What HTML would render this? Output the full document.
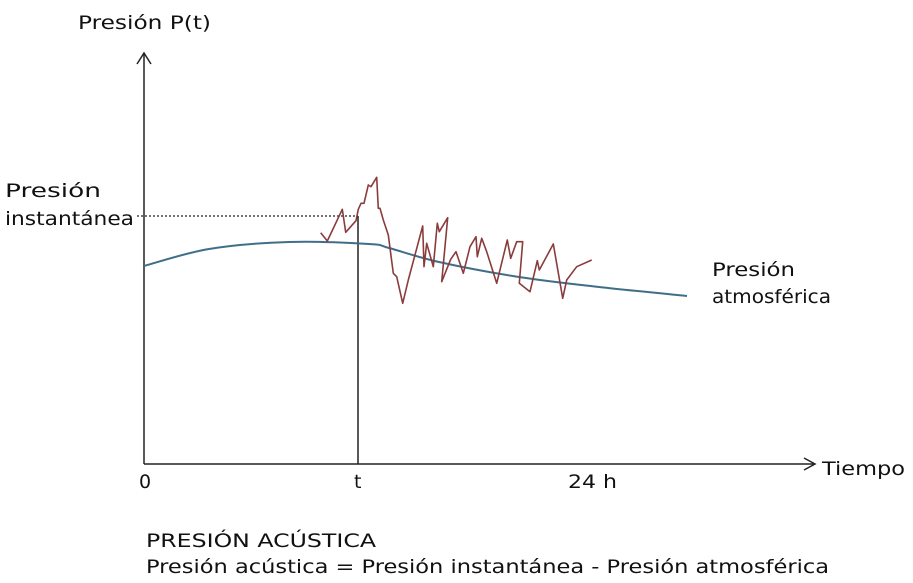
<!DOCTYPE html>
<html><head><meta charset="utf-8"><style>
html,body{margin:0;padding:0;background:#fff;}
svg{display:block;}
text{font-family:"DejaVu Sans","Liberation Sans",sans-serif;font-size:19px;fill:#111;}
</style></head><body>
<svg id="chart" width="913" height="583" viewBox="0 0 913 583">
<g id="axes">
  <line x1="144" y1="464" x2="144" y2="54" stroke="#222" stroke-width="1.5"/>
  <polyline points="137,64 144,53 151,64" fill="none" stroke="#222" stroke-width="1.5"/>
  <line x1="144" y1="464" x2="815" y2="464" stroke="#222" stroke-width="1.5"/>
  <polyline points="804,458 815,464 804,470" fill="none" stroke="#222" stroke-width="1.5"/>
  <text x="78" y="29" textLength="133" lengthAdjust="spacingAndGlyphs">Presión P(t)</text>
  <text x="822" y="475" textLength="83" lengthAdjust="spacingAndGlyphs">Tiempo</text>
  <text x="139" y="488">0</text>
  <text x="354" y="488">t</text>
  <text x="568" y="488" textLength="49" lengthAdjust="spacingAndGlyphs">24 h</text>
  <text x="5" y="197" textLength="96" lengthAdjust="spacingAndGlyphs">Presión</text>
  <text x="5" y="225" textLength="129" lengthAdjust="spacingAndGlyphs">instantánea</text>
  <text x="712" y="276" textLength="83" lengthAdjust="spacingAndGlyphs">Presión</text>
  <text x="712" y="303" textLength="119" lengthAdjust="spacingAndGlyphs">atmosférica</text>
  <text x="146" y="547" textLength="230" lengthAdjust="spacingAndGlyphs">PRESIÓN ACÚSTICA</text>
  <text x="146" y="573" textLength="683" lengthAdjust="spacingAndGlyphs">Presión acústica = Presión instantánea - Presión atmosférica</text>
</g>
<g id="marks"></g>
</svg>
<script>
// time in arbitrary units (0 = origin, 214 = t, ~445 = 24 h); pressure in arbitrary units above the x-axis
const atmTime = [0, 65, 145, 225, 245, 295, 375, 455, 543];
const atmPressure = [198, 215, 222, 220, 216, 202, 187, 177, 168];
const instTime = [176.7,183.3,198.3,201.7,212,214.3,217,220,224.3,227,232.7,234.3,236,239.3,244.3,249.3,252.7,258.7,264.3,278.7,280,282.7,289.3,293.3,295.3,303.7,297.7,306.7,312,319.3,326,332,333.3,337.7,342.7,352.7,363.3,366.7,372.7,378.7,375.3,386,393.3,395.3,409.3,418.7,422.7,432.7,447.7];
const instPressure = [231.3,223,254.7,231.7,243.3,254.7,260.7,260.7,279,277.3,286.7,255.7,255.7,244,229,190.7,187.3,160.7,184,238,197.3,220.7,197.3,240.7,232.3,246.3,182.3,204.7,212.3,190.7,217.3,227.3,207.3,225.7,212.3,180.7,224,205.7,222.3,222.3,180.7,172.3,203.3,194,220,165.7,184,197.3,204];
const instantValue = 248; // dotted reference level
const tMark = 214;

const X0 = 144, Y0 = 464;
function xScale(v){ return X0 + v; }
function yScale(v){ return Y0 - v; }

const NS = "http://www.w3.org/2000/svg";
const marks = document.getElementById('marks');

const ref = document.createElementNS(NS,'line');


ref.setAttribute('x1', 137); ref.setAttribute('x2', xScale(tMark));
ref.setAttribute('y1', yScale(instantValue)); ref.setAttribute('y2', yScale(instantValue));
ref.setAttribute('stroke', '#222'); ref.setAttribute('stroke-width', '1.2'); ref.setAttribute('stroke-dasharray', '2,2');
marks.appendChild(ref);

const tl = document.createElementNS(NS,'line');


tl.setAttribute('x1', xScale(tMark)); tl.setAttribute('x2', xScale(tMark));
tl.setAttribute('y1', yScale(instantValue)); tl.setAttribute('y2', Y0);
tl.setAttribute('stroke', '#222'); tl.setAttribute('stroke-width', '1.5');
marks.appendChild(tl);

function pts(xs, ys){ return xs.map((x,i)=>xScale(x).toFixed(1)+','+yScale(ys[i]).toFixed(1)).join(' '); }
function smoothPath(xs, ys){
  const p = xs.map((x,i)=>[xScale(x), yScale(ys[i])]);
  let d = 'M'+p[0][0]+','+p[0][1];
  for(let i=0;i<p.length-1;i++){
    const p0=p[i-1]||p[i], p1=p[i], p2=p[i+1], p3=p[i+2]||p2;
    const c1=[p1[0]+(p2[0]-p0[0])/6, p1[1]+(p2[1]-p0[1])/6];
    const c2=[p2[0]-(p3[0]-p1[0])/6, p2[1]-(p3[1]-p1[1])/6];
    d+=' C'+c1.join(',')+' '+c2.join(',')+' '+p2.join(',');
  }
  return d;
}

const atm = document.createElementNS(NS,'path');


atm.setAttribute('d', smoothPath(atmTime, atmPressure));
atm.setAttribute('fill', 'none'); atm.setAttribute('stroke', '#3f6f88'); atm.setAttribute('stroke-width', '2');
marks.appendChild(atm);

const inst = document.createElementNS(NS,'polyline');


inst.setAttribute('points', pts(instTime, instPressure));
inst.setAttribute('fill', 'none'); inst.setAttribute('stroke', '#8a3c3c'); inst.setAttribute('stroke-width', '1.6');
inst.setAttribute('stroke-linejoin', 'round');
marks.appendChild(inst);
</script>
</body></html>
